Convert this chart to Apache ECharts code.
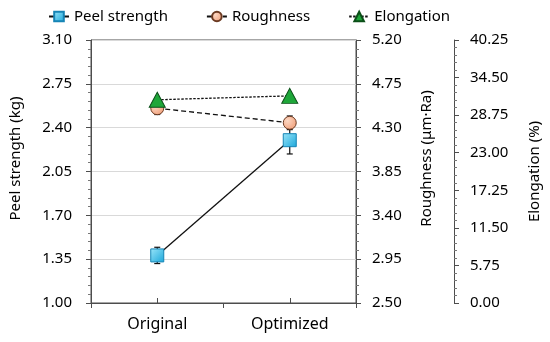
<!DOCTYPE html>
<html><head><meta charset="utf-8">
<script src="https://cdn.jsdelivr.net/npm/echarts@6/dist/echarts.min.js"></script>
<style>html,body{margin:0;padding:0;background:#fff}#c{width:550px;height:342px}</style>
</head><body><div id="c"></div>
<script>
const categories = ['Original', 'Optimized'];
const peelStrength = [1.38, 2.30];
const peelErr = [0.065, 0.11];
const roughness = [4.50, 4.35];
const roughErr = [0.065, 0.07];
const elongation = [31.1, 31.7];
const peelTicks = [1.00, 1.35, 1.70, 2.05, 2.40, 2.75, 3.10];
const roughTicks = [2.50, 2.95, 3.40, 3.85, 4.30, 4.75, 5.20];
const elongTicks = [0.00, 5.75, 11.50, 17.25, 23.00, 28.75, 34.50, 40.25];

const FONT = '"Noto Sans", "Open Sans", sans-serif';
const AX = '#4d4d4d';

function errData(vals, errs) {
  return vals.map((v, i) => [i, v - errs[i], v + errs[i]]);
}
function errRender(params, api) {
  const x = api.value(0);
  const lo = api.coord([x, api.value(1)]);
  const hi = api.coord([x, api.value(2)]);
  const w = 3;
  const st = { stroke: '#111', lineWidth: 1.2 };
  return { type: 'group', children: [
    { type: 'line', shape: { x1: lo[0], y1: lo[1], x2: hi[0], y2: hi[1] }, style: st },
    { type: 'line', shape: { x1: lo[0] - w, y1: lo[1], x2: lo[0] + w, y2: lo[1] }, style: st },
    { type: 'line', shape: { x1: hi[0] - w, y1: hi[1], x2: hi[0] + w, y2: hi[1] }, style: st }
  ]};
}
function yAxisBase(ticks, name, extra) {
  const iv = +(ticks[1] - ticks[0]).toFixed(4);
  return Object.assign({
    type: 'value', min: ticks[0], max: ticks[ticks.length - 1], interval: iv,
    name: name, nameLocation: 'middle', nameRotate: 90,
    nameTextStyle: { fontFamily: FONT, fontSize: 15, color: '#000' },
    axisLine: { show: true, lineStyle: { color: AX, width: 1 } },
    axisTick: { show: true, length: 5, lineStyle: { color: AX } },
    minorTick: { show: true, splitNumber: 5, length: 3, lineStyle: { color: '#777' } },
    axisLabel: { fontFamily: FONT, fontSize: 15, color: '#000', margin: 16, formatter: v => v.toFixed(2) },
    splitLine: { show: false }
  }, extra);
}

const chart = echarts.init(document.getElementById('c'), null, { renderer: 'canvas' });
chart.setOption({
  animation: false,
  backgroundColor: '#fff',
  grid: { left: 91, right: 194, top: 40, bottom: 39, show: true, borderColor: AX, borderWidth: 1 },
  legend: {
    top: 4, left: 43, itemGap: 38, itemWidth: 20, itemHeight: 12,
    textStyle: { fontFamily: FONT, fontSize: 15, color: '#000' },
    data: ['Peel strength', 'Roughness', 'Elongation']
  },
  xAxis: [{
    type: 'category', data: categories, boundaryGap: true,
    axisLine: { lineStyle: { color: AX } },
    axisTick: { show: true, length: 5, lineStyle: { color: AX } },
    axisLabel: { fontFamily: FONT, fontSize: 16, color: '#000', margin: 13 }
  }, {
    type: 'category', data: categories, boundaryGap: true, position: 'bottom',
    axisLine: { show: false },
    axisTick: { show: true, inside: true, alignWithLabel: true, length: 5, lineStyle: { color: AX } },
    axisLabel: { show: false }
  }],
  yAxis: [
    yAxisBase(peelTicks, 'Peel strength (kg)', {
      position: 'left', nameGap: 68,
      nameTextStyle: { fontFamily: FONT, fontSize: 15, color: '#000', padding: [0, 0, 0, 26] },
      axisLabel: { fontFamily: FONT, fontSize: 15, color: '#000', margin: 19, formatter: v => v.toFixed(2) },
      splitLine: { show: true, lineStyle: { color: '#d9d9d9', width: 1 } }
    }),
    yAxisBase(roughTicks, 'Roughness (μm·Ra)', {
      position: 'right', nameGap: 63,
      nameTextStyle: { fontFamily: FONT, fontSize: 15, color: '#000', padding: [0, 0, 0, 26] }
    }),
    yAxisBase(elongTicks, 'Elongation (%)', { position: 'right', offset: 98, nameGap: 73 })
  ],
  series: [
    { type: 'custom', name: 'pe', xAxisIndex: 0, yAxisIndex: 0, renderItem: errRender, data: errData(peelStrength, peelErr), z: 1 },
    { type: 'custom', name: 're', xAxisIndex: 0, yAxisIndex: 1, renderItem: errRender, data: errData(roughness, roughErr), z: 1 },
    {
      name: 'Roughness', type: 'line', yAxisIndex: 1, data: roughness, z: 3,
      symbol: 'circle', symbolSize: 13,
      lineStyle: { color: '#111', width: 1.3, type: [5, 3] },
      itemStyle: { color: new echarts.graphic.RadialGradient(0.35, 0.35, 0.8, [
        { offset: 0, color: '#fcd7c3' }, { offset: 1, color: '#ef9a73' }]), borderColor: '#6b3a22', borderWidth: 1 }
    },
    {
      name: 'Elongation', type: 'line', yAxisIndex: 2, data: elongation, z: 4,
      symbol: 'triangle', symbolSize: [16, 15],
      lineStyle: { color: '#111', width: 1.3, type: [2.5, 1.5] },
      itemStyle: { color: '#1ea639', borderColor: '#0b4f18', borderWidth: 1 }
    },
    {
      name: 'Peel strength', type: 'line', yAxisIndex: 0, data: peelStrength, z: 5,
      symbol: 'rect', symbolSize: 13,
      lineStyle: { color: '#111', width: 1.3, type: 'solid' },
      itemStyle: { color: new echarts.graphic.LinearGradient(0, 0, 1, 1, [
        { offset: 0, color: '#9be6fa' }, { offset: 1, color: '#1aa6d9' }]), borderColor: '#1684b5', borderWidth: 1 }
    }
  ]
});
</script>
</body></html>
